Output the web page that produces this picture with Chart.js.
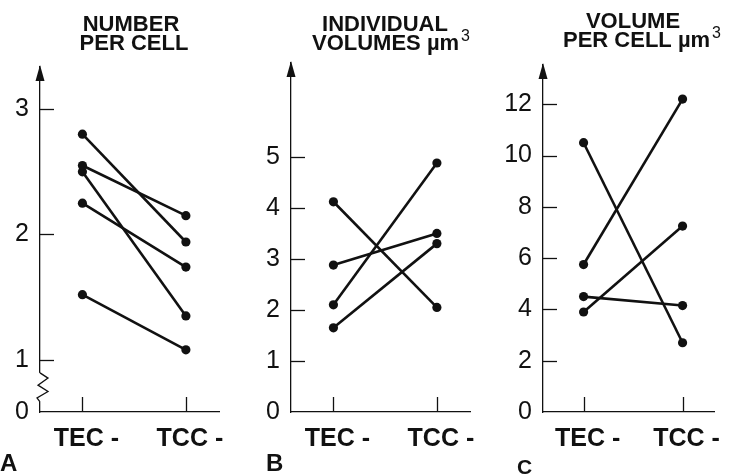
<!DOCTYPE html>
<html>
<head>
<meta charset="utf-8">
<script src="https://cdn.jsdelivr.net/npm/chart.js@4/dist/chart.umd.min.js"></script>
<style>
  html, body { margin: 0; padding: 0; background: #fff; }
  #wrap { position: relative; width: 729px; height: 475px; overflow: hidden; }
  .panel { position: absolute; top: 0; width: 243px; height: 475px; }
</style>
</head>
<body>
<div id="wrap">
  <div class="panel" style="left:0px"><canvas id="chartA" width="243" height="475"></canvas></div>
  <div class="panel" style="left:243px"><canvas id="chartB" width="243" height="475"></canvas></div>
  <div class="panel" style="left:486px"><canvas id="chartC" width="243" height="475"></canvas></div>
</div>
<script>
// categories on the x axis
const categories = ["TEC -", "TCC -"]

// A: number per cell (pairs TEC -> TCC)
const numberTec = [2.8, 2.55, 2.5, 2.25, 1.52]
const numberTcc = [1.94, 2.15, 1.35, 1.74, 1.08]
const numberTicks = [1, 2, 3]

// B: individual volumes um3
const indivTec = [4.12, 2.88, 2.1, 1.65]
const indivTcc = [2.05, 3.5, 4.88, 3.3]
const indivTicks = [0, 1, 2, 3, 4, 5]

// C: volume per cell um3
const cellTec = [10.5, 5.75, 4.5, 3.9]
const cellTcc = [2.7, 12.2, 4.15, 7.25]
const cellTicks = [0, 2, 4, 6, 8, 10, 12]

const INK = "#111"
const FAMILY = "'Liberation Sans', Arial, sans-serif"
const tickFont = { family: FAMILY, size: 25 }
const catFont = { family: FAMILY, size: 25, weight: "bold" }

// draws arrow, inward ticks, titles, panel letter, axis break
const panelDecor = {
  id: "panelDecor",
  afterDraw(chart, args, opts) {
    const ctx = chart.ctx
    const area = chart.chartArea
    const ys = chart.scales.y
    const xs = chart.scales.x
    ctx.save()
    ctx.strokeStyle = INK
    ctx.fillStyle = INK
    ctx.lineWidth = 1.3

    // y ticks drawn inward
    ys.ticks.forEach((t) => {
      if (t.value === ys.min) return
      const py = Math.round(ys.getPixelForValue(t.value)) + 0.5
      ctx.beginPath()
      ctx.moveTo(area.left, py)
      ctx.lineTo(area.left + 14, py)
      ctx.stroke()
    })
    // category ticks going up
    xs.ticks.forEach((t) => {
      const px = Math.round(xs.getPixelForValue(t.value)) + 0.5
      ctx.beginPath()
      ctx.moveTo(px, area.bottom)
      ctx.lineTo(px, area.bottom - 15)
      ctx.stroke()
    })

    // arrow head
    ctx.beginPath()
    ctx.moveTo(area.left, area.top - 2)
    ctx.lineTo(area.left - 4.5, area.top + 14)
    ctx.lineTo(area.left + 4.5, area.top + 14)
    ctx.closePath()
    ctx.fill()

    // axis break zigzag
    if (opts.breakFrom != null) {
      const yBot = ys.getPixelForValue(opts.breakFrom)
      const yTop = ys.getPixelForValue(opts.breakTo)
      const x0 = area.left
      ctx.fillStyle = "#fff"
      ctx.fillRect(x0 - 2, yTop, 4, yBot - yTop)
      ctx.fillStyle = INK
      const h = yBot - yTop
      ctx.beginPath()
      ctx.moveTo(x0, yTop)
      ctx.lineTo(x0 + 8, yTop + h * 0.18)
      ctx.lineTo(x0 - 2, yTop + h * 0.42)
      ctx.lineTo(x0 + 8, yTop + h * 0.64)
      ctx.lineTo(x0 - 3, yTop + h * 0.86)
      ctx.lineTo(x0, yBot)
      ctx.stroke()
    }

    // titles
    ctx.textBaseline = "middle"
    ctx.textAlign = "left"
    opts.titles.forEach((ln) => {
      ctx.font = "bold 22px " + FAMILY
      const w1 = ctx.measureText(ln.text).width
      let w2 = 0
      if (ln.sup) {
        ctx.font = "16px " + FAMILY
        w2 = ctx.measureText(ln.sup).width + 2
      }
      const x = ln.cx - (w1 + w2) / 2
      ctx.font = "bold 22px " + FAMILY
      ctx.fillText(ln.text, x, ln.cy)
      if (ln.sup) {
        ctx.font = "16px " + FAMILY
        ctx.fillText(ln.sup, x + w1 + 2, ln.cy - 7)
      }
    })

    // panel letter
    ctx.font = "bold " + opts.letterSize + "px " + FAMILY
    ctx.fillText(opts.letter, opts.letterX, opts.letterY)
    ctx.restore()
  },
}

function makePanel(canvasId, tec, tcc, tickVals, yMin, yMax, tickLabel, yWidth, pad, decor) {
  const datasets = tec.map((v, i) => ({
    data: [{ x: 0, y: v }, { x: 1, y: tcc[i] }],
    borderColor: INK,
    backgroundColor: INK,
    borderWidth: 2.6,
    pointRadius: 4.6,
    pointBorderWidth: 0,
    pointBackgroundColor: INK,
    tension: 0,
    clip: false,
  }))

  return new Chart(document.getElementById(canvasId), {
    type: "line",
    data: { datasets },
    options: {
      responsive: false,
      animation: false,
      devicePixelRatio: 1,
      layout: { padding: pad },
      plugins: {
        legend: { display: false },
        tooltip: { enabled: false },
        panelDecor: decor,
      },
      scales: {
        x: {
          type: "linear",
          min: -0.41,
          max: 1.32,
          afterBuildTicks: (s) => { s.ticks = categories.map((c, i) => ({ value: i })) },
          afterFit: (s) => { s.height = 63 },
          ticks: {
            color: INK,
            font: catFont,
            padding: 12,
            labelOffset: 4,
            maxRotation: 0,
            autoSkip: false,
            callback: (v) => categories[v],
          },
          grid: { drawOnChartArea: false, drawTicks: false },
          border: { color: INK, width: 1.3 },
        },
        y: {
          min: yMin,
          max: yMax,
          afterBuildTicks: (s) => { s.ticks = tickVals.map((v) => ({ value: v })) },
          afterFit: (s) => { s.width = yWidth },
          ticks: {
            color: INK,
            font: tickFont,
            padding: 11,
            autoSkip: false,
            callback: tickLabel,
          },
          grid: { drawOnChartArea: false, drawTicks: false },
          border: { color: INK, width: 1.3 },
        },
      },
    },
    plugins: [panelDecor],
  })
}

// A has a broken axis: the bottom of the scale is labelled 0
const aBase = 0.584
makePanel("chartA", numberTec, numberTcc, [aBase].concat(numberTicks), aBase, 3.336,
  (v) => (v === aBase ? "0" : String(v)), 40,
  { left: 0, right: 24, top: 67, bottom: 0 },
  {
    titles: [{ text: "NUMBER", cx: 131, cy: 25 }, { text: "PER CELL", cx: 134, cy: 44 }],
    letter: "A", letterX: 0, letterY: 464, letterSize: 24,
    breakFrom: 0.664, breakTo: 0.896,
  })

makePanel("chartB", indivTec, indivTcc, indivTicks, 0, 6.84, (v) => String(v), 48,
  { left: 0, right: 16, top: 63, bottom: 0 },
  {
    titles: [{ text: "INDIVIDUAL", cx: 142, cy: 25 }, { text: "VOLUMES µm", sup: "3", cx: 148, cy: 44 }],
    letter: "B", letterX: 23, letterY: 464, letterSize: 24,
  })

makePanel("chartC", cellTec, cellTcc, cellTicks, 0, 13.53, (v) => String(v), 57,
  { left: 0, right: 6, top: 65, bottom: 0 },
  {
    titles: [{ text: "VOLUME", cx: 147, cy: 22 }, { text: "PER CELL µm", sup: "3", cx: 156, cy: 41 }],
    letter: "C", letterX: 31, letterY: 468, letterSize: 21,
  })
</script>
</body>
</html>
